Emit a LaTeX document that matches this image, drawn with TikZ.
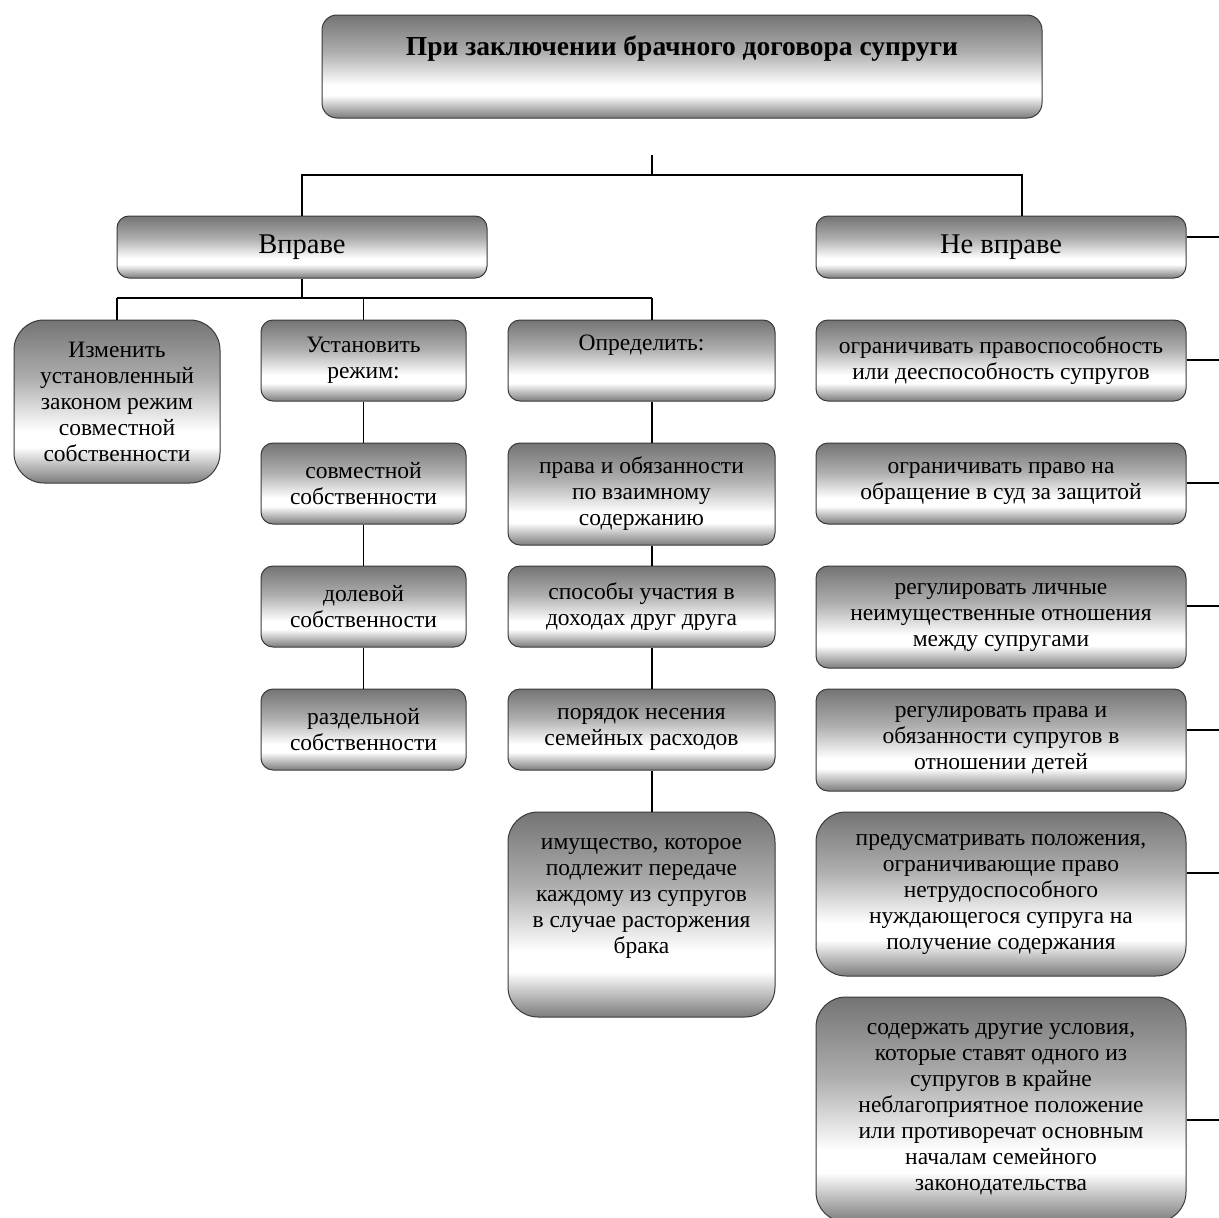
\documentclass[tikz,border=0pt]{standalone}
\usepackage{fontspec}
\setmainfont{Liberation Serif}
\definecolor{shT}{HTML}{747474}
\definecolor{shB}{HTML}{7C7C7C}
\definecolor{shM}{HTML}{AEAEAE}
\definecolor{edgec}{HTML}{3A3A3A}
\pgfdeclareverticalshading{boxshade}{100bp}{color(0bp)=(shB); color(25bp)=(shB); color(36bp)=(white); color(41bp)=(white); color(57bp)=(shM); color(75bp)=(shT); color(100bp)=(shT)}
\tikzset{
  box/.style={draw=edgec, line width=1pt, rounded corners=12pt, shading=boxshade, align=center, inner sep=0pt, text=black, font=\fontsize{23.5}{26}\selectfont},
  bigbox/.style={box, rounded corners=30pt},
  link/.style={draw=black, line width=1.1pt},
}
\begin{document}
\begin{tikzpicture}[x=1pt,y=-1pt]
\useasboundingbox (0,0) rectangle (1219,1218);
\clip (0,0) rectangle (1219,1218);
\fill[white] (0,0) rectangle (1219,1218);

% title
\node[box, rounded corners=15pt, minimum width=720pt, minimum height=103pt, font=\bfseries\fontsize{27.5}{30}\selectfont] (title) at (682,66.5) {При заключении брачного договора супруги\\[11pt]\mbox{}};

% level 1
\node[box, minimum width=370pt, minimum height=62pt, font=\fontsize{28.5}{30}\selectfont] (vprave) at (302,247) {Вправе};
\node[box, minimum width=370pt, minimum height=62pt, font=\fontsize{28.5}{30}\selectfont] (nevprave) at (1001,247) {Не вправе};

% left column
\node[bigbox, minimum width=206pt, minimum height=163pt] (izm) at (117,401.5) {Изменить\\установленный\\законом режим\\совместной\\собственности};

\node[box, minimum width=205pt, minimum height=81pt] (ust) at (363.5,360.5) {Установить\\режим:};
\node[box, minimum width=205pt, minimum height=81pt] (sovm) at (363.5,483.5) {совместной\\собственности};
\node[box, minimum width=205pt, minimum height=81pt] (dol) at (363.5,606.5) {долевой\\собственности};
\node[box, minimum width=205pt, minimum height=81pt] (razd) at (363.5,729.5) {раздельной\\собственности};

\node[box, minimum width=267pt, minimum height=81pt] (opr) at (641.5,360.5) {Определить:\\[9pt]\mbox{}};
\node[box, minimum width=267pt, minimum height=102pt] (prava) at (641.5,494) {права и обязанности\\по взаимному\\содержанию};
\node[box, minimum width=267pt, minimum height=81pt] (spos) at (641.5,606.5) {способы участия в\\доходах друг друга};
\node[box, minimum width=267pt, minimum height=81pt] (por) at (641.5,729.5) {порядок несения\\семейных расходов};
\node[bigbox, minimum width=267pt, minimum height=205pt] (imush) at (641.5,914.5) {имущество, которое\\подлежит передаче\\каждому из супругов\\в случае расторжения\\брака\\[12pt]\mbox{}};

% right column
\node[box, minimum width=370pt, minimum height=81pt] (r1) at (1001,360.5) {ограничивать правоспособность\\или дееспособность супругов};
\node[box, minimum width=370pt, minimum height=81pt] (r2) at (1001,483.5) {ограничивать право на\\обращение в суд за защитой};
\node[box, minimum width=370pt, minimum height=102pt] (r3) at (1001,617) {регулировать личные\\неимущественные отношения\\между супругами};
\node[box, minimum width=370pt, minimum height=102pt] (r4) at (1001,740) {регулировать права и\\обязанности супругов в\\отношении детей};
\node[bigbox, minimum width=370pt, minimum height=164pt] (r5) at (1001,894) {предусматривать положения,\\ограничивающие право\\нетрудоспособного\\нуждающегося супруга на\\получение содержания};
\node[bigbox, minimum width=370pt, minimum height=225pt] (r6) at (1001,1109.5) {содержать другие условия,\\которые ставят одного из\\супругов в крайне\\неблагоприятное положение\\или противоречат основным\\началам семейного\\законодательства};

% connectors: top
\coordinate (t0) at (652,155);
\coordinate (t1) at (652,175);
\coordinate (tr) at (1022,216);
\draw[link] (t0) -- (t1) -| (vprave.north);
\draw[link] (t1) -| (tr);

% Вправе branches
\coordinate (v1) at (302,298);
\coordinate (vL) at (117,298);
\coordinate (vR) at (652,298);
\draw[link] (vprave.south) -- (v1);
\draw[link] (vL) -- (vR);
\draw[link] (vL) -- (izm.north);
\draw[link] (ust.north |- v1) -- (ust.north);
\draw[link] (vR) -- (opr.north -| vR);

% Установить chain
\draw[link] (ust.south) -- (sovm.north);
\draw[link] (sovm.south) -- (dol.north);
\draw[link] (dol.south) -- (razd.north);

% Определить chain
\draw[link] (opr.south -| vR) -- (prava.north -| vR);
\draw[link] (prava.south -| vR) -- (spos.north -| vR);
\draw[link] (spos.south -| vR) -- (por.north -| vR);
\draw[link] (por.south -| vR) -- (imush.north -| vR);

% right stubs
\coordinate (e0) at (1219,237);
\coordinate (e1) at (1219,360);
\coordinate (e2) at (1219,483);
\coordinate (e3) at (1219,606);
\coordinate (e4) at (1219,730);
\coordinate (e5) at (1219,873);
\coordinate (e6) at (1219,1120);
\draw[link] (nevprave.east |- e0) -- (e0);
\draw[link] (r1.east |- e1) -- (e1);
\draw[link] (r2.east |- e2) -- (e2);
\draw[link] (r3.east |- e3) -- (e3);
\draw[link] (r4.east |- e4) -- (e4);
\draw[link] (r5.east |- e5) -- (e5);
\draw[link] (r6.east |- e6) -- (e6);
\end{tikzpicture}
\end{document}
